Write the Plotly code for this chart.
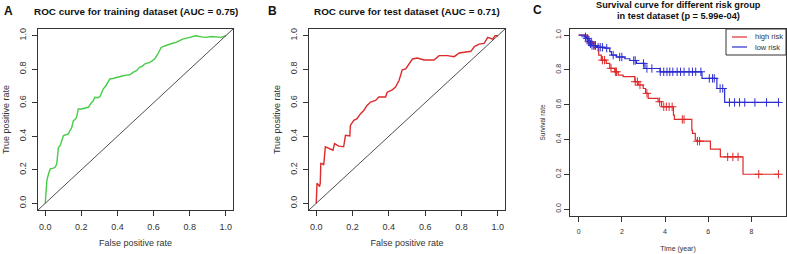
import numpy as np
import plotly.graph_objects as go

# ---------------- data ----------------
# Panel A: ROC curve, training dataset
fpr_train = [0, 0.005, 0.009, 0.018, 0.028, 0.045, 0.055, 0.064, 0.073, 0.080, 0.086, 0.101, 0.115, 0.128,
             0.140, 0.147, 0.156, 0.165, 0.174, 0.183, 0.200, 0.211, 0.225, 0.239, 0.257, 0.265, 0.275, 0.290,
             0.303, 0.321, 0.335, 0.349, 0.358, 0.375, 0.394, 0.410, 0.431, 0.450, 0.468, 0.486, 0.505, 0.523,
             0.540, 0.550, 0.565, 0.578, 0.592, 0.606, 0.624, 0.642, 0.665, 0.688, 0.705, 0.725, 0.745, 0.761,
             0.800, 0.835, 0.865, 0.890, 0.920, 0.945, 0.975, 1.0]
tpr_train = [0, 0.08, 0.135, 0.175, 0.205, 0.21, 0.215, 0.235, 0.334, 0.34, 0.354, 0.404, 0.41, 0.414,
             0.44, 0.453, 0.493, 0.50, 0.513, 0.563, 0.563, 0.566, 0.57, 0.573, 0.602, 0.61, 0.632, 0.63,
             0.636, 0.682, 0.70, 0.732, 0.742, 0.745, 0.752, 0.757, 0.761, 0.765, 0.767, 0.781, 0.791, 0.811,
             0.82, 0.831, 0.835, 0.841, 0.85, 0.861, 0.891, 0.930, 0.94, 0.950, 0.955, 0.960, 0.97, 0.980,
             0.99, 1.0, 0.993, 0.990, 0.995, 0.994, 0.99, 1.0]

# Panel B: ROC curve, test dataset
fpr_test = [0, 0.004, 0.004, 0.013, 0.018, 0.022, 0.025, 0.031, 0.041, 0.050, 0.068, 0.092, 0.101, 0.124,
            0.151, 0.161, 0.185, 0.188, 0.207, 0.225, 0.244, 0.262, 0.280, 0.299, 0.327, 0.345, 0.382,
            0.391, 0.419, 0.437, 0.456, 0.474, 0.493, 0.511, 0.530, 0.557, 0.594, 0.649, 0.677, 0.723,
            0.760, 0.788, 0.815, 0.852, 0.871, 0.897, 0.925, 0.945, 0.972, 0.985, 1.0]
tpr_test = [0, 0.059, 0.119, 0.109, 0.099, 0.12, 0.238, 0.238, 0.228, 0.337, 0.327, 0.317, 0.356, 0.341,
            0.337, 0.406, 0.402, 0.465, 0.495, 0.505, 0.535, 0.554, 0.584, 0.604, 0.614, 0.634, 0.634,
            0.663, 0.677, 0.693, 0.733, 0.796, 0.802, 0.832, 0.861, 0.867, 0.855, 0.855, 0.881, 0.881,
            0.875, 0.897, 0.901, 0.907, 0.935, 0.950, 0.954, 0.990, 0.980, 1.0, 1.0]

# Panel C: Kaplan-Meier survival, test dataset
high_t = [0, 0.43, 0.67, 0.87, 0.93, 1.05, 1.28, 1.44, 1.67, 1.83, 2.06, 2.60, 2.76, 2.99, 3.10, 3.22,
          3.68, 3.84, 4.39, 4.43, 5.24, 5.27, 5.40, 5.47, 6.10, 6.56, 7.61, 9.25]
high_s = [1.0, 0.96, 0.94, 0.93, 0.885, 0.856, 0.837, 0.809, 0.789, 0.770, 0.761, 0.732, 0.713, 0.693,
          0.665, 0.636, 0.617, 0.588, 0.540, 0.515, 0.454, 0.435, 0.397, 0.39, 0.345, 0.30, 0.20, 0.20]
high_cens = [0.50, 0.60, 0.75, 1.10, 1.20, 1.50, 1.70, 1.75, 2.62, 2.72, 2.84, 3.16, 3.75, 3.94, 4.06,
             4.19, 4.33, 4.80, 4.88, 5.50, 5.60, 6.90, 7.14, 7.38, 8.34, 9.25]

low_t = [0, 0.28, 0.36, 0.43, 0.51, 0.59, 0.82, 1.21, 1.44, 1.52, 1.75, 2.14, 2.37, 2.68, 3.07, 3.77,
         5.71, 6.40, 6.76, 9.30]
low_s = [1.0, 0.99, 0.98, 0.965, 0.95, 0.94, 0.93, 0.925, 0.905, 0.885, 0.874, 0.864, 0.854, 0.837,
         0.808, 0.789, 0.751, 0.693, 0.613, 0.613]
low_cens = [0.32, 0.40, 0.47, 0.55, 0.62, 0.70, 0.78, 0.90, 1.00, 1.10, 1.30, 1.60, 1.90, 2.00, 2.55,
            2.62, 3.00, 3.16, 3.39, 3.78, 3.94, 4.09, 4.22, 4.36, 4.56, 4.72, 4.88, 5.11, 5.27, 5.42,
            5.66, 6.05, 6.20, 6.28, 6.55, 6.67, 6.98, 7.22, 7.45, 7.69, 8.16, 8.70, 9.25]

group_names = ["high risk", "low risk"]

roc_ticks = [0, 0.2, 0.4, 0.6, 0.8, 1.0]
roc_ticktext = ["0.0", "0.2", "0.4", "0.6", "0.8", "1.0"]
surv_xticks = [0, 2, 4, 6, 8]
surv_yticks = [0, 0.2, 0.4, 0.6, 0.8, 1.0]
surv_yticktext = ["0.0", "0.2", "0.4", "0.6", "0.8", "1.0"]


def step_value(times, surv, t):
    idx = np.searchsorted(np.array(times), t, side="right") - 1
    return [surv[i] for i in idx]


# ---------------- styling ----------------
W, H = 787, 254
FONT = "Liberation Sans, Arial, sans-serif"
AX = "#333333"
GREEN = "#46cc46"
RED = "#dd2a2a"
BLUE = "#2c2cd0"


def px_x(a, b):
    return [a / W, b / W]


def px_y(top, bottom):
    return [1 - bottom / H, 1 - top / H]


fig = go.Figure()

fig.add_trace(go.Scatter(x=fpr_train, y=tpr_train, mode="lines", line=dict(color=GREEN, width=1.4),
                         xaxis="x", yaxis="y", showlegend=False))
fig.add_trace(go.Scatter(x=fpr_test, y=tpr_test, mode="lines", line=dict(color=RED, width=1.4),
                         xaxis="x2", yaxis="y2", showlegend=False))

fig.add_trace(go.Scatter(x=high_t, y=high_s, mode="lines", line=dict(color=RED, width=1.2, shape="hv"),
                         xaxis="x3", yaxis="y3", name=group_names[0], showlegend=False))
fig.add_trace(go.Scatter(x=low_t, y=low_s, mode="lines", line=dict(color=BLUE, width=1.2, shape="hv"),
                         xaxis="x3", yaxis="y3", name=group_names[1], showlegend=False))
fig.add_trace(go.Scatter(x=high_cens, y=step_value(high_t, high_s, high_cens), mode="markers",
                         marker=dict(symbol="cross-thin", size=6, line=dict(color=RED, width=1)),
                         xaxis="x3", yaxis="y3", showlegend=False))
fig.add_trace(go.Scatter(x=low_cens, y=step_value(low_t, low_s, low_cens), mode="markers",
                         marker=dict(symbol="cross-thin", size=6, line=dict(color=BLUE, width=1)),
                         xaxis="x3", yaxis="y3", showlegend=False))


def axis(domain, anchor, rng, tickvals, ticktext, title, size, tsize, angle=0, standoff=4, lstand=0):
    return dict(domain=domain, anchor=anchor, range=rng, tickvals=tickvals, ticktext=ticktext,
                showline=True, linecolor=AX, linewidth=1, mirror=True, ticks="outside", ticklen=5,
                tickcolor=AX, tickwidth=1, showgrid=False, zeroline=False, tickangle=angle,
                automargin=False, ticklabelstandoff=lstand,
                tickfont=dict(family=FONT, size=size, color=AX),
                title=dict(text=title, font=dict(family=FONT, size=tsize, color=AX), standoff=standoff))


roc_rng = [-0.04, 1.04]
fig.update_layout(
    xaxis=axis(px_x(38, 233), "y", roc_rng, roc_ticks, roc_ticktext, "False positive rate", 9, 9, 0, 8, 3),
    yaxis=axis(px_y(29, 210), "x", roc_rng, roc_ticks, roc_ticktext, "True positive rate", 9, 9, -90, 7, 2),
    xaxis2=axis(px_x(309, 505), "y2", roc_rng, roc_ticks, roc_ticktext, "False positive rate", 9, 9, 0, 8, 3),
    yaxis2=axis(px_y(29, 210), "x2", roc_rng, roc_ticks, roc_ticktext, "True positive rate", 9, 9, -90, 7, 2),
    xaxis3=axis(px_x(570, 786), "y3", [-0.4, 9.6], surv_xticks, [str(v) for v in surv_xticks],
                "Time (year)", 7, 7, 0, 11, 4),
    yaxis3=axis(px_y(29, 216), "x3", [-0.04, 1.035], surv_yticks, surv_yticktext, "Survival rate",
                7, 6.5, -90, 8),
)

for xr, yr in (("x", "y"), ("x2", "y2")):
    fig.add_shape(type="line", xref=xr, yref=yr, x0=roc_rng[0], y0=roc_rng[0], x1=roc_rng[1], y1=roc_rng[1],
                  line=dict(color="#222222", width=0.8))

# legend box for panel C (drawn like R's legend())
fig.add_shape(type="rect", xref="paper", yref="paper", x0=726 / W, x1=786 / W, y0=1 - 55 / H, y1=1 - 29 / H,
              line=dict(color=AX, width=1), fillcolor="white", layer="above")
for name, col, yy in ((group_names[0], RED, 37), (group_names[1], BLUE, 47)):
    fig.add_shape(type="line", xref="paper", yref="paper", x0=732 / W, x1=747 / W, y0=1 - yy / H,
                  y1=1 - yy / H, line=dict(color=col, width=1.2), layer="above")
    fig.add_annotation(text=name, x=753 / W, y=1 - yy / H, xref="paper", yref="paper", showarrow=False,
                       xanchor="left", yanchor="middle", font=dict(family=FONT, size=7.5, color=AX))

ann = [
    dict(text="<b>A</b>", x=8.5, y=11, size=12),
    dict(text="<b>B</b>", x=272, y=11, size=12),
    dict(text="<b>C</b>", x=537, y=10, size=12),
    dict(text="<b>ROC curve for training dataset (AUC = 0.75)</b>", x=136, y=11, size=9.9),
    dict(text="<b>ROC curve for test dataset (AUC = 0.71)</b>", x=407, y=11, size=9.9),
    dict(text="<b>Survival curve for different risk group</b>", x=678, y=5, size=9.2),
    dict(text="<b>in test dataset (p = 5.99e-04)</b>", x=678, y=16, size=9.2),
]
for a in ann:
    fig.add_annotation(text=a["text"], x=a["x"] / W, y=1 - a["y"] / H, xref="paper", yref="paper",
                       showarrow=False, xanchor="center", yanchor="middle",
                       font=dict(family=FONT, size=a["size"], color="#111111"))

fig.update_layout(
    width=W, height=H, margin=dict(l=0, r=0, t=0, b=0),
    paper_bgcolor="white", plot_bgcolor="white",
    font=dict(family=FONT, color=AX),
    showlegend=False,
)

fig.write_html("out.html", config={"displayModeBar": False},
               post_script="document.body.style.margin='0px';")
